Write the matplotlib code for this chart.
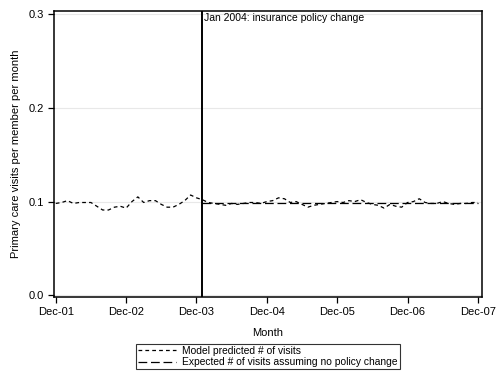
import numpy as np
import matplotlib.pyplot as plt

plt.rcParams['font.family'] = ['Liberation Sans', 'DejaVu Sans']

# monthly index, 0 = Dec-01 ... 72 = Dec-07
months = np.arange(73)
predicted = [
    0.098, 0.099, 0.101, 0.098, 0.099, 0.099, 0.099, 0.095, 0.091, 0.091,
    0.094, 0.095, 0.093, 0.100, 0.105, 0.099, 0.101, 0.101, 0.097, 0.094,
    0.094, 0.097, 0.101, 0.107, 0.104, 0.102, 0.099, 0.098, 0.097, 0.096,
    0.098, 0.097, 0.098, 0.099, 0.099, 0.098, 0.100, 0.101, 0.104, 0.103,
    0.099, 0.100, 0.097, 0.094, 0.096, 0.097, 0.098, 0.099, 0.100, 0.099,
    0.101, 0.100, 0.102, 0.099, 0.097, 0.096, 0.093, 0.097, 0.095, 0.094,
    0.099, 0.100, 0.103, 0.099, 0.098, 0.098, 0.100, 0.098, 0.097, 0.098,
    0.098, 0.099, 0.099,
]
policy_month = 25  # Jan 2004
exp_months = np.arange(policy_month, 73)
expected = [0.098] * len(exp_months)

tick_pos = [0, 12, 24, 36, 48, 60, 72]
tick_labels = ["Dec-01", "Dec-02", "Dec-03", "Dec-04", "Dec-05", "Dec-06", "Dec-07"]
ytick_pos = [0.0, 0.1, 0.2, 0.3]

fig = plt.figure(figsize=(5, 3.77), dpi=100)
ax = fig.add_axes([0.108, 0.212, 0.856, 0.760])

for yv in ytick_pos:
    ax.axhline(yv, color='#e8e8e8', lw=0.8, zorder=0)

ax.plot(months, predicted, color='black', lw=0.9, dashes=(3, 2.5),
        label='Model predicted # of visits')
ax.plot(exp_months, expected, color='black', lw=0.9, dashes=(7, 3),
        label='Expected # of visits assuming no policy change')
ax.axvline(policy_month, color='black', lw=1.4)
ax.text(policy_month + 0.2, 0.301, 'Jan 2004: insurance policy change',
        fontsize=7.5, va='top', ha='left')

ax.set_xlim(-0.3, 72.7)
ax.set_ylim(-0.002, 0.304)
ax.set_xticks(tick_pos)
ax.set_xticklabels(tick_labels, fontsize=8)
ax.set_yticks(ytick_pos)
ax.set_yticklabels(["0.0", "0.1", "0.2", "0.3"], fontsize=8)
ax.tick_params(direction='out', length=4, width=0.9, pad=3)
for s in ax.spines.values():
    s.set_linewidth(1.1)

ax.set_xlabel('Month', fontsize=8, labelpad=8)
ax.set_ylabel('Primary care visits per member per month', fontsize=8, labelpad=6)

leg = fig.legend(loc='center', bbox_to_anchor=(0.536, 0.054), fontsize=7.4,
                 frameon=True, fancybox=False, edgecolor='black',
                 handlelength=3.7, borderpad=0.2, labelspacing=0.15,
                 handletextpad=0.6, borderaxespad=0)
leg.get_frame().set_linewidth(0.8)

fig.savefig('out.png', dpi=100)
